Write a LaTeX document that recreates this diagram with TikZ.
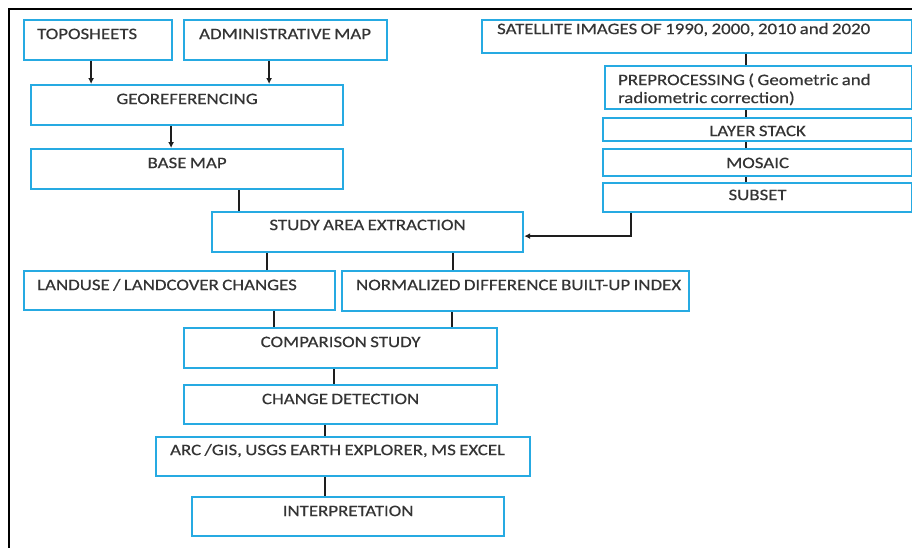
\documentclass[tikz,border=0pt]{standalone}
\usepackage{fontspec}
\newfontfamily\boxfont[FakeStretch=1.18,FakeBold=0.4]{Carlito}
\usetikzlibrary{arrows.meta}
\definecolor{boxblue}{RGB}{38,170,226}
\definecolor{txtgray}{RGB}{52,52,52}
\definecolor{linegray}{RGB}{30,30,30}
\tikzset{
  box/.style={draw=boxblue,line width=2.2pt,fill=white,anchor=north west,
    inner ysep=0pt,inner xsep=0pt,text=txtgray,text height=19pt,
    font=\boxfont\fontsize{16}{18}\selectfont},
  cbox/.style 2 args={box,text width=#1,align=center,text depth=#2,
    execute at begin node={\spaceskip=3.4pt\relax}},
  lbox/.style n args={3}{box,text width=#1,align=left,text depth=#2,
    execute at begin node={\spaceskip=3.4pt\leftskip=#3\rightskip=0pt minus 60pt\relax}},
  link/.style={draw=linegray,line width=1.3pt},
  arr/.style={link,-{Latex[length=6pt,width=6pt]}},
}
\begin{document}
\begin{tikzpicture}[x=1pt,y=-1pt]%
  \useasboundingbox (0,0) rectangle (912,547);
  \clip (0,0) rectangle (912,547);
  \draw[line width=2pt] (9,560) -- (9,9) -- (920,9);
  \node[lbox={148pt}{21pt}{13pt}] (topo) at (23,19) {TOPOSHEETS};
  \node[lbox={203pt}{21pt}{15pt}] (admin) at (183,19) {ADMINISTRATIVE MAP};
  \node[cbox={312pt}{21pt}] (geo) at (30,84) {GEOREFERENCING};
  \node[cbox={312pt}{21pt}] (base) at (30,148) {BASE MAP};
  \node[lbox={430pt}{19pt}{15pt},text height=14pt] (sat) at (481,19)
    {SATELLITE IMAGES OF 1990, 2000, 2010 and 2020};
  \node[lbox={307pt}{24pt}{13pt}] (pre) at (604,65)
    {PREPROCESSING ( Geometric and\\radiometric correction)};
  \node[cbox={309pt}{5pt},text height=18pt] (layer) at (602,117) {LAYER STACK};
  \node[cbox={309pt}{8pt}] (mosaic) at (602,148) {MOSAIC};
  \node[cbox={309pt}{12pt},text height=17pt] (subset) at (602,182) {SUBSET};
  \node[cbox={311pt}{22pt},text height=18pt] (study) at (211,211) {STUDY AREA EXTRACTION};
  \node[lbox={311pt}{20pt}{13pt}] (landuse) at (23,270) {LANDUSE / LANDCOVER CHANGES};
  \node[lbox={347pt}{21pt}{14pt}] (ndbi) at (341,270) {NORMALIZED DIFFERENCE BUILT-UP INDEX};
  \node[cbox={313pt}{21pt}] (comp) at (183,327) {COMPARISON STUDY};
  \node[cbox={313pt}{20pt}] (change) at (183,384) {CHANGE DETECTION};
  \node[lbox={374pt}{21pt}{14pt},text height=18pt] (arc) at (155,436)
    {ARC /GIS, USGS EARTH EXPLORER, MS EXCEL};
  \node[cbox={312pt}{20pt}] (interp) at (191,496) {INTERPRETATION};
  \coordinate (satline) at (746,0);
  \draw[arr] ([xshift=-7pt]topo.south) -- ([xshift=-7pt]topo.south |- geo.north);
  \draw[arr] ([xshift=-16.5pt]admin.south) -- ([xshift=-16.5pt]admin.south |- geo.north);
  \draw[arr] ([xshift=-16pt]geo.south) -- ([xshift=-16pt]base.north);
  \draw[link] ([xshift=52pt]base.south) -- ([xshift=52pt]base.south |- study.north);
  \foreach \a/\b in {sat/pre,pre/layer,layer/mosaic,mosaic/subset}
    \draw[link] (\a.south -| satline) -- (\b.north -| satline);
  \draw[arr] ([xshift=-126.5pt]subset.south) |- ([yshift=-4pt]study.east);
  \draw[link] ([xshift=-100.5pt]study.south) -- ([xshift=-100.5pt]study.south |- landuse.north);
  \draw[link] ([xshift=85.5pt]study.south) -- ([xshift=85.5pt]study.south |- ndbi.north);
  \draw[link] ([xshift=94.5pt]landuse.south) -- ([xshift=94.5pt]landuse.south |- comp.north);
  \draw[link] ([xshift=-63.5pt]ndbi.south) -- ([xshift=-63.5pt]ndbi.south |- comp.north);
  \draw[link] ([xshift=-6.5pt]comp.south) -- ([xshift=-6.5pt]change.north);
  \draw[link] ([xshift=-15.5pt]change.south) -- ([xshift=-15.5pt]change.south |- arc.north);
  \draw[link] ([xshift=-18pt]arc.south) -- ([xshift=-18pt]arc.south |- interp.north);
\end{tikzpicture}
\end{document}
